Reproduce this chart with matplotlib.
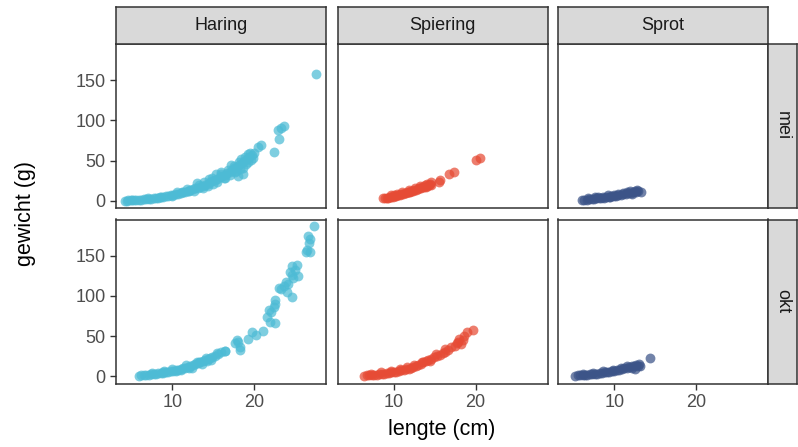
import matplotlib
matplotlib.use("Agg")
import matplotlib.pyplot as plt

plt.rcParams['font.family'] = ['Liberation Sans', 'DejaVu Sans']

# facet labels
soorten = ["Haring", "Spiering", "Sprot"]
maanden = ["mei", "okt"]
kleuren = {"Haring": "#4DBBD5", "Spiering": "#E64B35", "Sprot": "#3C5488"}

# lengte (cm) / gewicht (g)
haring_mei_l = [4.2, 4.5, 4.6, 4.9, 5.0, 5.3, 5.6, 5.9, 6.2, 6.5, 6.8, 7.1, 7.4, 7.7, 8.0, 8.3,
                8.6, 8.9, 9.2, 9.5, 9.8, 10.1, 10.4, 10.7, 11.0, 11.3, 11.6, 11.9, 12.2, 12.5,
                12.8, 13.1, 13.4, 13.7, 14.0, 14.3, 14.6, 14.9, 15.2, 15.5, 15.8, 16.1, 16.4,
                16.7, 17.0, 17.3, 17.6, 17.9, 18.2, 18.5, 18.8, 19.1, 19.4, 19.7, 20.0,
                7.0, 8.5, 9.9, 11.2, 12.0, 13.0, 13.8, 14.5, 15.0, 15.3, 16.0, 16.5, 17.2,
                17.8, 18.0, 18.4, 18.6, 18.7, 19.0, 19.2, 19.6,
                10.6, 11.8, 12.6, 13.3, 13.9, 14.4, 14.8, 15.4, 15.9, 16.3, 16.8, 17.1,
                17.5, 17.7, 18.1, 18.3, 18.9, 19.3, 19.5, 19.9,
                20.5, 20.8, 22.4, 23.0, 22.9, 23.3, 23.7, 27.6]
haring_mei_w = [0.5, 0.6, 0.7, 0.8, 0.9, 1.1, 1.3, 1.5, 1.8, 2.0, 2.3, 2.6, 3.0, 3.4, 3.8, 4.2,
                4.7, 5.2, 5.8, 6.3, 7.0, 7.6, 8.3, 9.1, 9.9, 10.7, 11.6, 12.5, 13.4, 14.5,
                15.5, 16.6, 17.8, 19.0, 20.3, 21.6, 23.0, 24.5, 26.0, 27.6, 29.2, 30.9, 32.6,
                34.5, 36.4, 38.3, 40.3, 42.4, 44.6, 46.8, 49.2, 51.5, 54.0, 56.5, 59.2,
                3.2, 5.5, 6.0, 11.5, 12.0, 22.0, 16.0, 27.0, 21.0, 33.0, 36.0, 29.0, 45.0,
                37.0, 31.0, 52.0, 41.0, 34.0, 46.0, 58.0, 51.0,
                11.0, 15.0, 13.0, 20.0, 23.5, 19.0, 28.0, 24.0, 33.0, 28.5, 38.0, 32.0,
                43.0, 35.5, 48.0, 40.0, 54.0, 48.0, 59.0, 53.0,
                67.0, 70.0, 61.0, 77.0, 88.0, 91.0, 93.0, 157.0]

haring_okt_l = [5.9, 6.2, 6.5, 6.8, 7.1, 7.4, 7.7, 8.0, 8.3, 8.6, 8.9, 9.2, 9.5, 9.8, 10.1,
                10.4, 10.7, 11.0, 11.3, 11.6, 11.9, 12.2, 12.5, 12.8, 13.1, 13.4, 13.7, 14.0,
                14.3, 14.6, 14.9, 15.2, 15.6, 16.0, 16.4, 9.0, 10.5, 12.0, 13.2, 14.2,
                7.5, 8.8, 10.0, 11.1, 11.7, 12.4, 13.0, 13.6, 14.1, 14.7, 15.4,
                16.5, 17.7, 17.9, 18.3, 18.3, 18.0, 19.3, 19.8, 20.2, 21.1,
                21.6, 21.8, 22.1, 22.6, 22.0, 22.4, 22.5, 22.6,
                23.0, 23.3, 23.7, 24.7, 23.9, 24.2, 24.0,
                24.4, 24.7, 25.2, 24.8, 25.4, 25.0, 24.6,
                26.3, 26.8, 26.5, 26.7, 26.9, 26.6, 27.3]
haring_okt_w = [1.2, 1.4, 1.7, 2.0, 2.3, 2.6, 3.0, 3.4, 3.8, 4.3, 4.8, 5.3, 5.9, 6.5, 7.2,
                7.9, 8.6, 9.4, 10.2, 11.1, 12.0, 13.0, 14.1, 15.2, 16.3, 17.5, 18.8, 20.1,
                21.5, 23.0, 24.5, 26.0, 28.2, 30.5, 31.0, 6.5, 7.0, 11.0, 18.0, 19.0,
                4.5, 6.0, 9.5, 8.0, 14.0, 11.0, 18.5, 15.0, 23.0, 20.0, 29.0,
                31.0, 41.0, 45.0, 36.0, 33.0, 43.0, 47.0, 55.0, 52.0, 57.0,
                74.0, 82.0, 80.0, 66.0, 67.0, 86.0, 90.0, 95.0,
                110.0, 108.0, 112.0, 99.0, 117.0, 115.0, 105.0,
                130.0, 137.0, 138.0, 122.0, 125.0, 132.0, 126.0,
                154.0, 155.0, 157.0, 166.0, 170.0, 174.0, 187.0]

spiering_mei_l = [8.7, 8.9, 9.1, 9.3, 9.5, 9.7, 9.9, 10.1, 10.3, 10.5, 10.7, 10.9, 11.1, 11.3,
                  11.5, 11.7, 11.9, 12.1, 12.3, 12.5, 12.7, 12.9, 13.1, 13.3, 13.5, 13.7,
                  13.9, 14.1, 14.3, 14.5, 14.4, 13.8, 12.0, 10.0,
                  9.6, 10.4, 11.0, 11.8, 12.6, 13.2, 14.0, 14.6,
                  15.5, 15.7, 16.7, 17.4, 20.0, 20.6]
spiering_mei_w = [3.3, 3.8, 4.3, 4.0, 5.0, 5.5, 5.2, 6.3, 6.8, 7.1, 7.9, 8.2, 9.0, 9.4,
                  10.3, 10.8, 11.3, 12.2, 12.6, 13.5, 14.0, 14.8, 15.5, 16.0, 16.8, 17.5,
                  17.9, 18.6, 19.5, 20.0, 21.5, 19.5, 11.0, 7.0,
                  7.5, 9.0, 11.5, 13.5, 16.0, 18.5, 21.0, 23.0,
                  24.0, 26.0, 34.0, 36.0, 51.0, 53.0]

spiering_okt_l = [6.4, 6.7, 7.0, 7.3, 7.6, 7.9, 8.2, 8.5, 8.8, 9.1, 9.4, 9.7, 10.0, 10.3,
                  10.6, 10.9, 11.2, 11.5, 11.8, 12.1, 12.4, 12.7, 13.0, 13.3, 13.6, 13.9,
                  14.2, 14.5, 14.9, 15.3, 15.6, 16.0, 16.3, 16.6,
                  7.2, 8.4, 9.6, 10.8, 11.6, 12.5, 13.4, 14.4, 15.1, 16.2,
                  17.0, 17.5, 17.7, 17.9, 18.2, 18.5, 18.0, 18.9, 19.7, 18.6]
spiering_okt_w = [1.2, 1.4, 1.6, 1.8, 2.1, 2.4, 2.7, 3.1, 3.5, 4.0, 4.4, 5.0, 5.5, 6.1,
                  6.8, 7.5, 8.2, 9.0, 9.9, 10.8, 11.8, 12.8, 14.0, 15.2, 17.5, 19.0,
                  20.0, 22.0, 24.0, 25.5, 27.0, 29.0, 30.0, 32.5,
                  3.5, 5.0, 6.8, 9.5, 11.5, 14.0, 18.0, 19.5, 28.0, 33.5,
                  36.0, 38.0, 41.0, 43.0, 40.0, 45.0, 46.0, 55.0, 57.5, 50.0]

sprot_mei_l = [6.0, 6.3, 6.6, 6.9, 7.2, 7.5, 7.8, 8.1, 8.4, 8.7, 9.0, 9.3, 9.6, 9.9, 10.2,
               10.5, 10.8, 11.1, 11.4, 11.7, 12.0, 12.3, 12.6, 12.9, 13.3,
               10.0, 11.5, 12.2, 9.5, 8.0, 12.8,
               6.8, 7.6, 8.6, 9.2, 10.4, 11.0, 11.9, 12.5]
sprot_mei_w = [1.2, 1.5, 1.8, 2.1, 2.4, 2.8, 3.1, 3.5, 3.9, 4.3, 4.8, 5.2, 5.7, 6.2, 6.8,
               7.3, 7.9, 8.5, 9.1, 9.8, 10.4, 11.0, 11.6, 11.8, 11.5,
               8.0, 11.0, 8.5, 4.5, 4.5, 13.5,
               3.5, 4.5, 5.5, 7.0, 9.0, 10.5, 12.5, 13.0]

sprot_okt_l = [5.2, 5.5, 5.8, 6.1, 6.4, 6.7, 7.0, 7.3, 7.6, 7.9, 8.2, 8.5, 8.8, 9.1, 9.4,
               9.7, 10.0, 10.3, 10.6, 10.9, 11.2, 11.5, 11.8, 12.1, 12.4, 12.7, 13.0,
               13.1, 12.5, 6.2, 7.4, 8.6, 9.8, 10.8, 11.6, 12.2, 12.9,
               14.4]
sprot_okt_w = [1.2, 1.4, 1.6, 1.8, 2.0, 2.3, 2.6, 2.9, 3.3, 3.7, 4.1, 4.5, 5.0, 5.5, 6.1,
               6.6, 7.3, 7.9, 8.6, 9.3, 10.0, 10.8, 11.6, 12.5, 13.4, 14.2, 15.5,
               12.5, 9.5, 3.2, 4.5, 6.2, 8.5, 11.0, 12.8, 10.5, 13.0,
               23.0]

data = {
    ("Haring", "mei"): (haring_mei_l, haring_mei_w),
    ("Haring", "okt"): (haring_okt_l, haring_okt_w),
    ("Spiering", "mei"): (spiering_mei_l, spiering_mei_w),
    ("Spiering", "okt"): (spiering_okt_l, spiering_okt_w),
    ("Sprot", "mei"): (sprot_mei_l, sprot_mei_w),
    ("Sprot", "okt"): (sprot_okt_l, sprot_okt_w),
}

W, H = 798, 447
fig = plt.figure(figsize=(W / 100, H / 100), dpi=100)

col_left = [116, 337.5, 558]
col_w = 210
row_top = [44, 219.5]
row_h = 164
strip_top = 7
strip_w = 29

border = "#333333"
tick_col = "#4D4D4D"


def px_axes(x0, y0, w, h):
    # pixel box (top-left origin) -> figure fraction
    return fig.add_axes([x0 / W, 1 - (y0 + h) / H, w / W, h / H])


for j, soort in enumerate(soorten):
    for i, maand in enumerate(maanden):
        ax = px_axes(col_left[j], row_top[i], col_w, row_h)
        l, w = data[(soort, maand)]
        ax.scatter(l, w, s=50, color=kleuren[soort], alpha=0.72, linewidths=0, zorder=3)
        ax.set_xlim(3.1, 28.8)
        ax.set_ylim(-8.7, 194.7)
        ax.set_xticks([10, 20])
        ax.set_yticks([0, 50, 100, 150])
        for sp in ax.spines.values():
            sp.set_color(border)
            sp.set_linewidth(1.1)
        ax.tick_params(colors=border, labelcolor=tick_col, labelsize=13, length=4, width=1)
        if j > 0:
            ax.tick_params(axis="y", left=False, labelleft=False)
        if i == 0:
            ax.tick_params(axis="x", bottom=False, labelbottom=False)

    # column strip
    sax = px_axes(col_left[j], strip_top, col_w, row_top[0] - strip_top)
    sax.set_facecolor("#D9D9D9")
    sax.set_xticks([])
    sax.set_yticks([])
    for sp in sax.spines.values():
        sp.set_color(border)
        sp.set_linewidth(1.1)
    sax.text(0.5, 0.5, soort, ha="center", va="center", fontsize=13, color="#1A1A1A",
             transform=sax.transAxes)

for i, maand in enumerate(maanden):
    rax = px_axes(col_left[2] + col_w, row_top[i], strip_w, row_h)
    rax.set_facecolor("#D9D9D9")
    rax.set_xticks([])
    rax.set_yticks([])
    for sp in rax.spines.values():
        sp.set_color(border)
        sp.set_linewidth(1.1)
    rax.text(0.5, 0.5, maand, ha="center", va="center", fontsize=13, color="#1A1A1A",
             rotation=-90, transform=rax.transAxes)

fig.text(442 / W, 1 - 430 / H, "lengte (cm)", ha="center", va="center", fontsize=15.5,
         color="black")
fig.text(25 / W, 1 - 213 / H, "gewicht (g)", ha="center", va="center", fontsize=15.5,
         color="black", rotation=90)

fig.savefig("out.png", dpi=100, facecolor="white")
